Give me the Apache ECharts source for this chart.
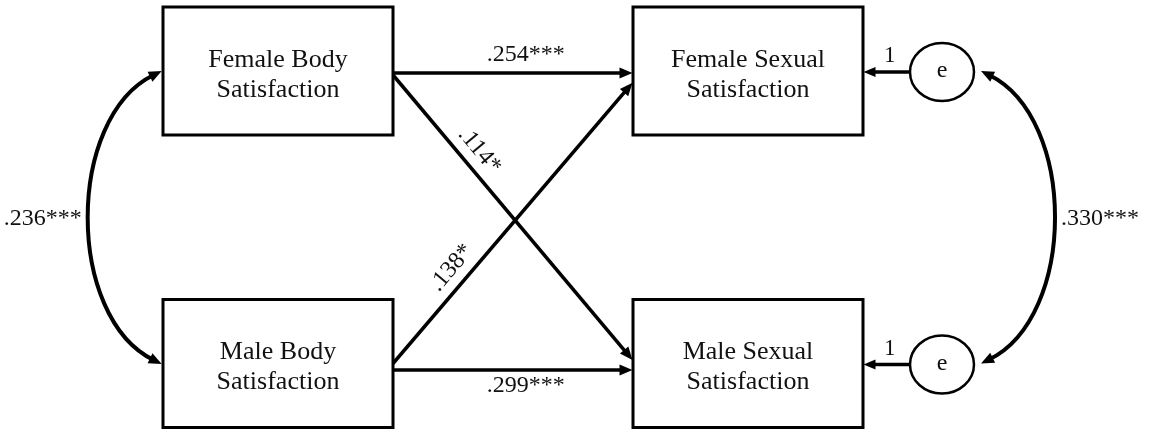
<!DOCTYPE html>
<html>
<head>
<meta charset="utf-8">
<script src="https://cdn.jsdelivr.net/npm/echarts@6/dist/echarts.min.js"></script>
<style>
  html, body { margin: 0; padding: 0; background: #fff; }
  #main { width: 1149px; height: 430px; }
</style>
</head>
<body>
<div id="main"></div>
<script>
// model: observed variables, paths, covariances, residuals
const nodeNames = ['Female Body\nSatisfaction', 'Male Body\nSatisfaction', 'Female Sexual\nSatisfaction', 'Male Sexual\nSatisfaction'];
const pathFrom = [0, 0, 1, 1];
const pathTo = [2, 3, 2, 3];
const pathCoefs = ['.254***', '.114*', '.138*', '.299***'];
const covCoefs = ['.236***', '.330***'];
const errNames = ['e', 'e'];
const errTargets = [2, 3];
const errLoadings = ['1', '1'];

// layout of the diagram (drawing space is 1149 x 430)
const nodeCenters = [[278, 71], [278, 363.5], [748, 71], [748, 363.5]];
const boxSize = [230, 128];
const pathAnchors = [[2, 2], [4, -3.5], [0, 11.7], [6.5, 6.5]];
const pathLabelPos = [[0.554, 18], [0.305, 17.5], [0.30, 17.5], [0.554, -16]];
const errCenters = [[942, 72], [942, 364.5]];
const errRadius = [32, 29];

const FONT = '"Liberation Serif", "Times New Roman", serif';
const INK = '#111';

function arrowHead(tip, ux, uy, len, w) {
    const bx = tip[0] - ux * len, by = tip[1] - uy * len;
    const nx = -uy, ny = ux;
    return {
        type: 'polygon',
        shape: { points: [[tip[0], tip[1]], [bx + nx * w / 2, by + ny * w / 2], [bx - nx * w / 2, by - ny * w / 2]] },
        style: { fill: '#000' }
    };
}

function label(x, y, text, size, extra) {
    return Object.assign({
        type: 'text', x: x, y: y,
        style: { text: text, font: size + 'px ' + FONT, fill: INK, align: 'center', verticalAlign: 'middle' }
    }, extra || {});
}

function renderBox(params, api) {
    const i = api.value(0);
    const c = api.coord(nodeCenters[i]);
    const s = api.size(boxSize);
    return {
        type: 'group',
        children: [
            { type: 'rect', shape: { x: c[0] - s[0] / 2, y: c[1] - s[1] / 2, width: s[0], height: s[1] },
              style: { fill: '#fff', stroke: '#000', lineWidth: 3 } },
            { type: 'text', x: c[0], y: c[1] + 4,
              style: { text: nodeNames[i], font: '26px ' + FONT, fill: INK, align: 'center', verticalAlign: 'middle', lineHeight: 30 } }
        ]
    };
}

function renderPath(params, api) {
    const i = api.value(0);
    const s = nodeCenters[pathFrom[i]], t = nodeCenters[pathTo[i]];
    const a = api.coord([s[0] + boxSize[0] / 2, s[1] + pathAnchors[i][0]]);
    const b = api.coord([t[0] - boxSize[0] / 2 - 0.5, t[1] + pathAnchors[i][1]]);
    const dx = b[0] - a[0], dy = b[1] - a[1];
    const len = Math.sqrt(dx * dx + dy * dy);
    const ux = dx / len, uy = dy / len;
    const lp = pathLabelPos[i];
    const px = a[0] + dx * lp[0] + uy * lp[1];
    const py = a[1] + dy * lp[0] - ux * lp[1];
    return {
        type: 'group',
        children: [
            { type: 'line', shape: { x1: a[0], y1: a[1], x2: b[0] - ux * 9, y2: b[1] - uy * 9 },
              style: { stroke: '#000', lineWidth: 3.5 } },
            arrowHead(b, ux, uy, 13, 11),
            label(px, py, pathCoefs[i], 24, { rotation: -Math.atan2(dy, dx) })
        ]
    };
}

function renderErr(params, api) {
    const i = api.value(0);
    const c = api.coord(errCenters[i]);
    const tgt = nodeCenters[errTargets[i]];
    const tip = api.coord([tgt[0] + boxSize[0] / 2 + 0.5, errCenters[i][1]]);
    const start = c[0] - errRadius[0];
    return {
        type: 'group',
        children: [
            { type: 'line', shape: { x1: start, y1: c[1], x2: tip[0] + 8, y2: c[1] },
              style: { stroke: '#000', lineWidth: 3.5 } },
            arrowHead(tip, -1, 0, 12, 10),
            { type: 'ellipse', shape: { cx: c[0], cy: c[1], rx: errRadius[0], ry: errRadius[1] },
              style: { fill: '#fff', stroke: '#000', lineWidth: 2.5 } },
            label(c[0], c[1] - 1, errNames[i], 24),
            label((start + tip[0]) / 2 + 3, c[1] - 16, errLoadings[i], 23)
        ]
    };
}

function renderCov(params, api) {
    const i = api.value(0);
    let p0, p3, dir;
    if (i === 0) {
        p0 = api.coord([nodeCenters[0][0] - boxSize[0] / 2 - 1.3, nodeCenters[0][1]]);
        p3 = api.coord([nodeCenters[1][0] - boxSize[0] / 2 - 1.3, nodeCenters[1][1] + 0.5]);
        dir = -1;
    } else {
        p0 = api.coord([errCenters[0][0] + errRadius[0] + 7, errCenters[0][1] - 1]);
        p3 = api.coord([errCenters[1][0] + errRadius[0] + 7, errCenters[1][1] - 1]);
        dir = 1;
    }
    const p1 = [p0[0] + dir * 96, p0[1] + 47];
    const p2 = [p3[0] + dir * 96, p3[1] - 47];
    // unit tangents pointing into the arrow tips
    const t0x = p0[0] - p1[0], t0y = p0[1] - p1[1], l0 = Math.sqrt(t0x * t0x + t0y * t0y);
    const t3x = p3[0] - p2[0], t3y = p3[1] - p2[1], l3 = Math.sqrt(t3x * t3x + t3y * t3y);
    const u0 = [t0x / l0, t0y / l0], u3 = [t3x / l3, t3y / l3];
    const midX = 0.25 * p0[0] + 0.75 * p1[0];
    const midY = (p0[1] + p3[1]) / 2 + 1.5;
    return {
        type: 'group',
        children: [
            { type: 'bezierCurve',
              shape: { x1: p0[0] - u0[0] * 9, y1: p0[1] - u0[1] * 9, cpx1: p1[0], cpy1: p1[1], cpx2: p2[0], cpy2: p2[1],
                       x2: p3[0] - u3[0] * 9, y2: p3[1] - u3[1] * 9 },
              style: { stroke: '#000', lineWidth: 4, fill: null } },
            arrowHead(p0, u0[0], u0[1], 13, 11),
            arrowHead(p3, u3[0], u3[1], 13, 11),
            { type: 'text', x: midX + dir * 8, y: midY,
              style: { text: covCoefs[i], font: '24px ' + FONT, fill: INK, align: dir < 0 ? 'right' : 'left', verticalAlign: 'middle' } }
        ]
    };
}

const chart = echarts.init(document.getElementById('main'));
chart.setOption({
    animation: false,
    grid: { left: 0, right: 0, top: 0, bottom: 0 },
    xAxis: { type: 'value', min: 0, max: 1149, show: false },
    yAxis: { type: 'value', min: 0, max: 430, inverse: true, show: false },
    series: [
        { type: 'custom', name: 'paths', renderItem: renderPath, data: pathCoefs.map((c, i) => [i, i]) },
        { type: 'custom', name: 'residuals', renderItem: renderErr, data: errNames.map((e, i) => [i, i]) },
        { type: 'custom', name: 'covariances', renderItem: renderCov, data: covCoefs.map((c, i) => [i, i]) },
        { type: 'custom', name: 'variables', renderItem: renderBox, data: nodeNames.map((n, i) => [i, i]) }
    ]
});
</script>
</body>
</html>
